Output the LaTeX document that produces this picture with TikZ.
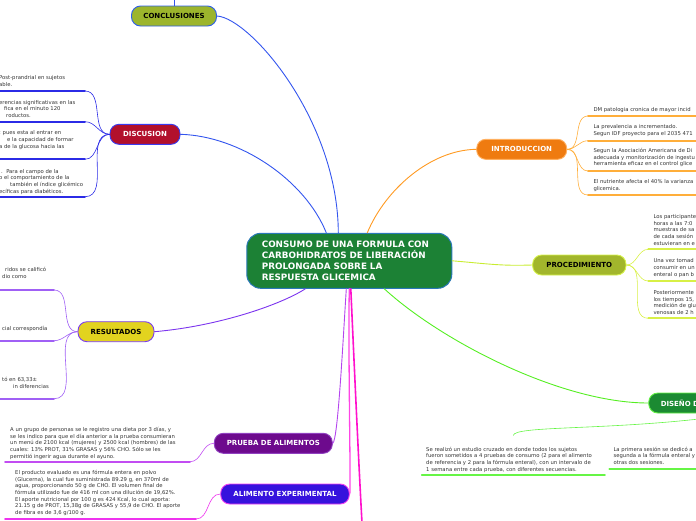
\documentclass[tikz,border=0pt]{standalone}
\usepackage{fontspec}
\setmainfont{DejaVu Sans}
\usepackage{tikz}

\definecolor{cenfill}{HTML}{1C8135}
\definecolor{cenline}{HTML}{2A78B8}
\definecolor{conclfill}{HTML}{9CB52C}
\definecolor{conclline}{HTML}{2D5FE8}
\definecolor{discfill}{HTML}{B2102C}
\definecolor{discline}{HTML}{3B3BF0}
\definecolor{resfill}{HTML}{E2D31F}
\definecolor{resline}{HTML}{7B3CF0}
\definecolor{pruebafill}{HTML}{6D0A8D}
\definecolor{pruebaline}{HTML}{9040C0}
\definecolor{alimfill}{HTML}{3612DD}
\definecolor{alimline}{HTML}{F040F0}
\definecolor{introfill}{HTML}{EF7B10}
\definecolor{introline}{HTML}{FFB060}
\definecolor{procfill}{HTML}{A2B62C}
\definecolor{procline}{HTML}{D6F24C}
\definecolor{disfill}{HTML}{1B8A32}
\definecolor{disline}{HTML}{62F044}
\definecolor{azul}{HTML}{3355EE}
\definecolor{azulsub}{HTML}{2B2BE6}
\definecolor{roxo}{HTML}{7C35EE}
\definecolor{roxosub}{HTML}{A060F5}
\definecolor{lilas}{HTML}{B444EE}
\definecolor{lilassub}{HTML}{C24CF2}
\definecolor{magenta2}{HTML}{FF44E6}
\definecolor{magentasub}{HTML}{EE33EE}
\definecolor{rosa}{HTML}{FF11CC}
\definecolor{laranja}{HTML}{FF9A22}
\definecolor{laranjasub}{HTML}{FFAE3A}
\definecolor{lima}{HTML}{C8EC30}
\definecolor{limasub}{HTML}{D8F046}
\definecolor{verde}{HTML}{55EE22}
\definecolor{verdesub}{HTML}{66F545}
\definecolor{texto}{HTML}{333333}

\begin{document}
\begin{tikzpicture}[x=1pt, y=-1pt, line cap=round]
    \tikzstyle{ramo}=[rectangle, rounded corners=9pt, minimum height=20pt, inner xsep=0pt, font=\fontsize{7}{8}\selectfont\bfseries, line width=0.9pt]
    \tikzstyle{nota}=[anchor=north west, inner sep=0pt, align=left, font=\fontsize{5.3}{6.7}\selectfont, text=texto]
    \tikzstyle{sub}=[line width=1.8pt]
    \tikzstyle{liga}=[line width=0.6pt]
    \tikzstyle{tronco}=[line width=0.9pt]

    \useasboundingbox (0,0) rectangle (696,520);
    \clip (0,0) rectangle (696,520);

    % Nós
    \node[rectangle, rounded corners=14pt, fill=cenfill, draw=cenline, line width=1pt,
          minimum width=205pt, minimum height=55pt, inner xsep=15pt, text width=175pt,
          align=left, text=white, font=\fontsize{8.8}{10.7}\selectfont\bfseries] (cen) at (349.3,260.8)
          {CONSUMO DE UNA FORMULA CON\\CARBOHIDRATOS DE LIBERACIÓN\\PROLONGADA SOBRE LA\\RESPUESTA GLICEMICA};

    \node[ramo, fill=conclfill, draw=conclline, minimum width=85pt] (concl) at (174,16) {CONCLUSIONES};
    \node[ramo, fill=discfill, draw=discline, text=white, minimum width=70pt] (disc) at (145,134.3) {DISCUSION};
    \node[ramo, fill=resfill, draw=resline, minimum width=76pt] (res) at (116,331.7) {RESULTADOS};
    \node[ramo, fill=pruebafill, draw=pruebaline, text=white, minimum width=118pt] (prueba) at (273.3,443.3) {PRUEBA DE ALIMENTOS};
    \node[ramo, fill=alimfill, draw=alimline, text=white, minimum width=128.6pt] (alim) at (285,494) {ALIMENTO EXPERIMENTAL};
    \node[ramo, fill=introfill, draw=introline, text=white, minimum width=90pt] (intro) at (521.7,149.3) {INTRODUCCION};
    \node[ramo, fill=procfill, draw=procline, minimum width=93.3pt] (proc) at (579.3,265) {PROCEDIMIENTO};
    \node[ramo, fill=disfill, draw=disline, text=white, anchor=west, inner xsep=12pt,
          text width=80pt, align=left] (dis) at (648.3,403) {DISEÑO D};

    % Textos
    \node[nota] (d1) at (-1,75.5) {Post-prandrial en sujetos\\able.};
    \node[nota] (d2) at (-1,100) {erencias significativas en las\\\hspace*{5pt}fica en el minuto 120\\\hspace*{7pt}roductos.};
    \node[nota] (d3) at (-1,130.5) {; pues esta al entrar en\\\hspace*{8pt}e la capacidad de formar\\a de la glucosa hacia las};
    \node[nota] (d4) at (-1,169) {\hspace*{2pt}.\ \ Para el campo de la\\o el comportamiento de la\\\hspace*{11pt}también el índice glicémico\\ecíficas para diabéticos.};

    \node[nota] (r1) at (2,267) {\hspace*{3pt}ridos se calificó\\dio como};
    \node[nota] (r2) at (2,326) {cial correspondía};
    \node[nota] (r3) at (2,377) {tó en 63,33±\\\hspace*{11pt}in diferencias};

    \node[nota] (p1) at (10,427) {A un grupo de personas se le registro una dieta por 3 días, y\\se les indico para que el día anterior a la prueba consumieran\\un menú de 2100 kcal (mujeres) y 2500 kcal (hombres) de las\\cuales: 13\% PROT, 31\% GRASAS y 56\% CHO. Sólo se les\\permitió ingerir agua durante el ayuno.};
    \node[nota] (a1) at (15,470) {El producto evaluado es una fórmula entera en polvo\\(Glucerna), la cual fue suministrada 89.29 g, en 370ml de\\agua, proporcionando 50 g de CHO. El volumen final de\\fórmula utilizado fue de 416 ml con una dilución de 19,62\%.\\El aporte nutricional por 100 g es 424 Kcal, lo cual aporta:\\21.15 g de PROT, 15,38g de GRASAS y 55,9 de CHO. El aporte\\de fibra es de 3,6 g/100 g.};

    \node[nota] (i1) at (593.3,107) {DM patologia cronica de mayor incid};
    \node[nota] (i2) at (593.3,124.7) {La prevalencia a incrementado.\\Segun IDF proyecto para el 2035 471};
    \node[nota] (i3) at (593.3,148) {Segun la Asociación Americana de Di\\adecuada y monitorización de ingestu\\herramienta eficaz en el control glice};
    \node[nota] (i4) at (593.3,179.3) {El nutriente afecta el 40\% la varianza\\glicemica.};

    \node[nota] (c1) at (653.3,214.3) {Los participante\\horas a las 7:0\\muestras de sa\\de cada sesión\\estuvieran en e};
    \node[nota] (c2) at (653.3,258.7) {Una vez tomad\\consumir en un\\enteral o pan b};
    \node[nota] (c3) at (653.3,290.3) {Posteriormente\\los tiempos 15,\\medición de glu\\venosas de 2 h};

    \node[nota] (s1) at (426,446.7) {Se realizó un estudio cruzado en donde todos los sujetos\\fueron sometidos a 4 pruebas de consumo (2 para el alimento\\de referencia y 2 para la fórmula enteral), con un intervalo de\\1 semana entre cada prueba, con diferentes secuencias.};
    \node[nota] (s2) at (613.3,446.7) {La primera sesión se dedicó a\\segunda a la fórmula enteral y\\otras dos sesiones.};

    % Pontos das linhas
    \coordinate (ctop) at (174,-3);
    \foreach \n/\y in {1/91, 2/121.7, 3/159.3, 4/196.7} {
        \coordinate (dA\n) at (-3,\y);
        \coordinate (dB\n) at (85,\y);
    }
    \foreach \n/\y in {1/290, 2/340.7, 3/398.7} {
        \coordinate (rA\n) at (-3,\y);
        \coordinate (rB\n) at (54,\y);
    }
    \coordinate (pA) at (5,461.7);   \coordinate (pB) at (190,461.7);
    \coordinate (aA) at (5,519);     \coordinate (aB) at (196,519);
    \foreach \n/\y in {1/116, 2/140.7, 3/171, 4/195} {
        \coordinate (iA\n) at (588,\y);
        \coordinate (iB\n) at (700,\y);
    }
    \foreach \n/\y in {1/249.3, 2/281, 3/318.3} {
        \coordinate (cA\n) at (648.3,\y);
        \coordinate (cB\n) at (700,\y);
    }
    \coordinate (sA) at (421.7,475.3); \coordinate (sB) at (605,475.3);
    \coordinate (tA) at (609.3,469.3); \coordinate (tB) at (700,469.3);
    \coordinate (eA) at (699,419);     \coordinate (eB) at (513.3,435.3);
    \coordinate (fim) at (362,523);

    % Arestas
    \draw[tronco, azul] (concl.north) -- (ctop);
    \draw[tronco, azul] (concl.east) .. controls (250,18) and (338,120) .. ([xshift=-11pt]cen.north);
    \draw[tronco, azul] (disc.east) .. controls (240,136) and (305,180) .. ([xshift=-23pt]cen.north);
    \draw[tronco, roxo] (res.east) .. controls (220,326) and (282,304) .. ([xshift=-44pt]cen.south);
    \draw[tronco, lilas] (prueba.east) .. controls (338,440) and (343,340) .. ([xshift=-3pt]cen.south);
    \draw[line width=1.3pt, magenta2] (alim.east) .. controls (351,490) and (348,350) .. (cen.south);
    \draw[line width=1.6pt, rosa] ([xshift=1.5pt]cen.south) .. controls (354,360) and (358,450) .. (fim);
    \draw[tronco, laranja] ([xshift=18pt]cen.north) .. controls (385,190) and (430,150) .. (intro.west);
    \draw[tronco, lima] (cen.east) .. controls (490,264) and (500,266) .. (proc.west);
    \draw[tronco, verde] ([xshift=35pt]cen.south) .. controls (440,340) and (560,403) .. (dis.west);

    \foreach \n in {1,...,4} {
        \draw[liga, azulsub] (disc.west) to[out=180, in=0] (dB\n);
        \draw[sub, azulsub] (dB\n) -- (dA\n);
        \draw[liga, laranjasub] (intro.east) to[out=0, in=180] (iA\n);
        \draw[sub, laranjasub] (iA\n) -- (iB\n);
    }
    \foreach \n in {1,...,3} {
        \draw[liga, roxosub] (res.west) to[out=180, in=0] (rB\n);
        \draw[sub, roxosub] (rB\n) -- (rA\n);
        \draw[liga, limasub] (proc.east) to[out=0, in=180] (cA\n);
        \draw[sub, limasub] (cA\n) -- (cB\n);
    }
    \draw[liga, lilassub] (prueba.west) to[out=180, in=0] (pB);
    \draw[sub, lilassub] (pB) -- (pA);
    \draw[liga, magentasub] (alim.west) to[out=180, in=0] (aB);
    \draw[sub, magentasub] (aB) -- (aA);
    \draw[sub, verdesub] (sA) -- (sB);
    \draw[sub, verdesub] (tA) -- (tB);
    \draw[liga, verdesub] (eA) .. controls (600,430) and (515,426) .. (eB);
\end{tikzpicture}
\end{document}
